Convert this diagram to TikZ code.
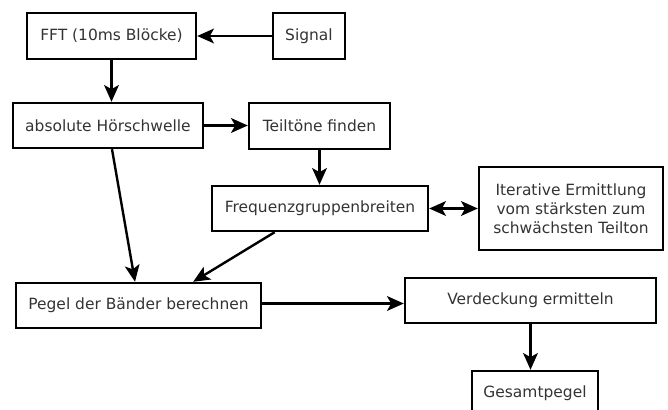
\documentclass[tikz,border=0pt]{standalone}
\usepackage{fontspec}
\setmainfont{DejaVu Sans}
\usepackage{tikz}
\usetikzlibrary{arrows.meta,calc}
\definecolor{txtgray}{HTML}{333333}
\tikzset{
  box/.style={draw, line width=1.8pt, align=center, inner sep=2pt, text=txtgray,
              font=\fontsize{11.6}{14.4}\selectfont},
  arr/.style={-{Stealth[length=12.5pt, width=11pt, inset=3pt]}, line width=1.8pt},
  dblarr/.style={{Stealth[length=12.5pt, width=11pt, inset=3pt]}-{Stealth[length=12.5pt, width=11pt, inset=3pt]}, line width=1.8pt},
}

\begin{document}
\begin{tikzpicture}[x=0.75pt, y=-0.75pt]
    \useasboundingbox (0,0) rectangle (668,410);
    \node[box, minimum width=126.75pt, minimum height=34.5pt] (fft) at (111.5,36) {FFT (10ms Blöcke)};
    \node[box, minimum width=54pt, minimum height=34.5pt] (signal) at (309,36) {Signal};
    \node[box, minimum width=142.5pt, minimum height=33.75pt] (hoer) at (108,125.5) {absolute Hörschwelle};
    \node[box, minimum width=105.75pt, minimum height=34.5pt] (teil) at (319.5,126) {Teiltöne finden};
    \node[box, minimum width=162pt, minimum height=33.75pt] (fgb) at (320,208.5) {Frequenzgruppenbreiten};
    \node[box, minimum width=138pt, minimum height=62.25pt] (iter) at (571,208.5) {Iterative Ermittlung\\vom stärksten zum\\schwächsten Teilton};
    \node[box, minimum width=183.75pt, minimum height=33.75pt] (pegel) at (138.5,305.5) {Pegel der Bänder berechnen};
    \node[box, minimum width=188.25pt, minimum height=33.75pt] (verd) at (530.5,300.5) {Verdeckung ermitteln};
    \node[box, minimum width=94.5pt, minimum height=33pt] (ges) at (535,393) {Gesamtpegel};
    \draw[arr] (signal) -- (fft);
    \draw[arr] (fft.south) -- (fft.south |- hoer.north);
    \draw[arr] (hoer) -- (hoer -| teil.west);
    \draw[arr] (teil.south) -- (teil.south |- fgb.north);
    \draw[dblarr] (fgb) -- (iter);
    \draw[arr] ([xshift=3pt]hoer.south) -- ([xshift=-2.6pt]pegel.north);
    \draw[arr] ([xshift=-34pt]fgb.south) -- ([xshift=41pt]pegel.north);
    \draw[arr] ($(pegel.east)+(0,-2)$) -- ($(pegel.east -| verd.west)+(0,-2)$);
    \draw[arr] (verd.south) -- (verd.south |- ges.north);
\end{tikzpicture}
\end{document}
